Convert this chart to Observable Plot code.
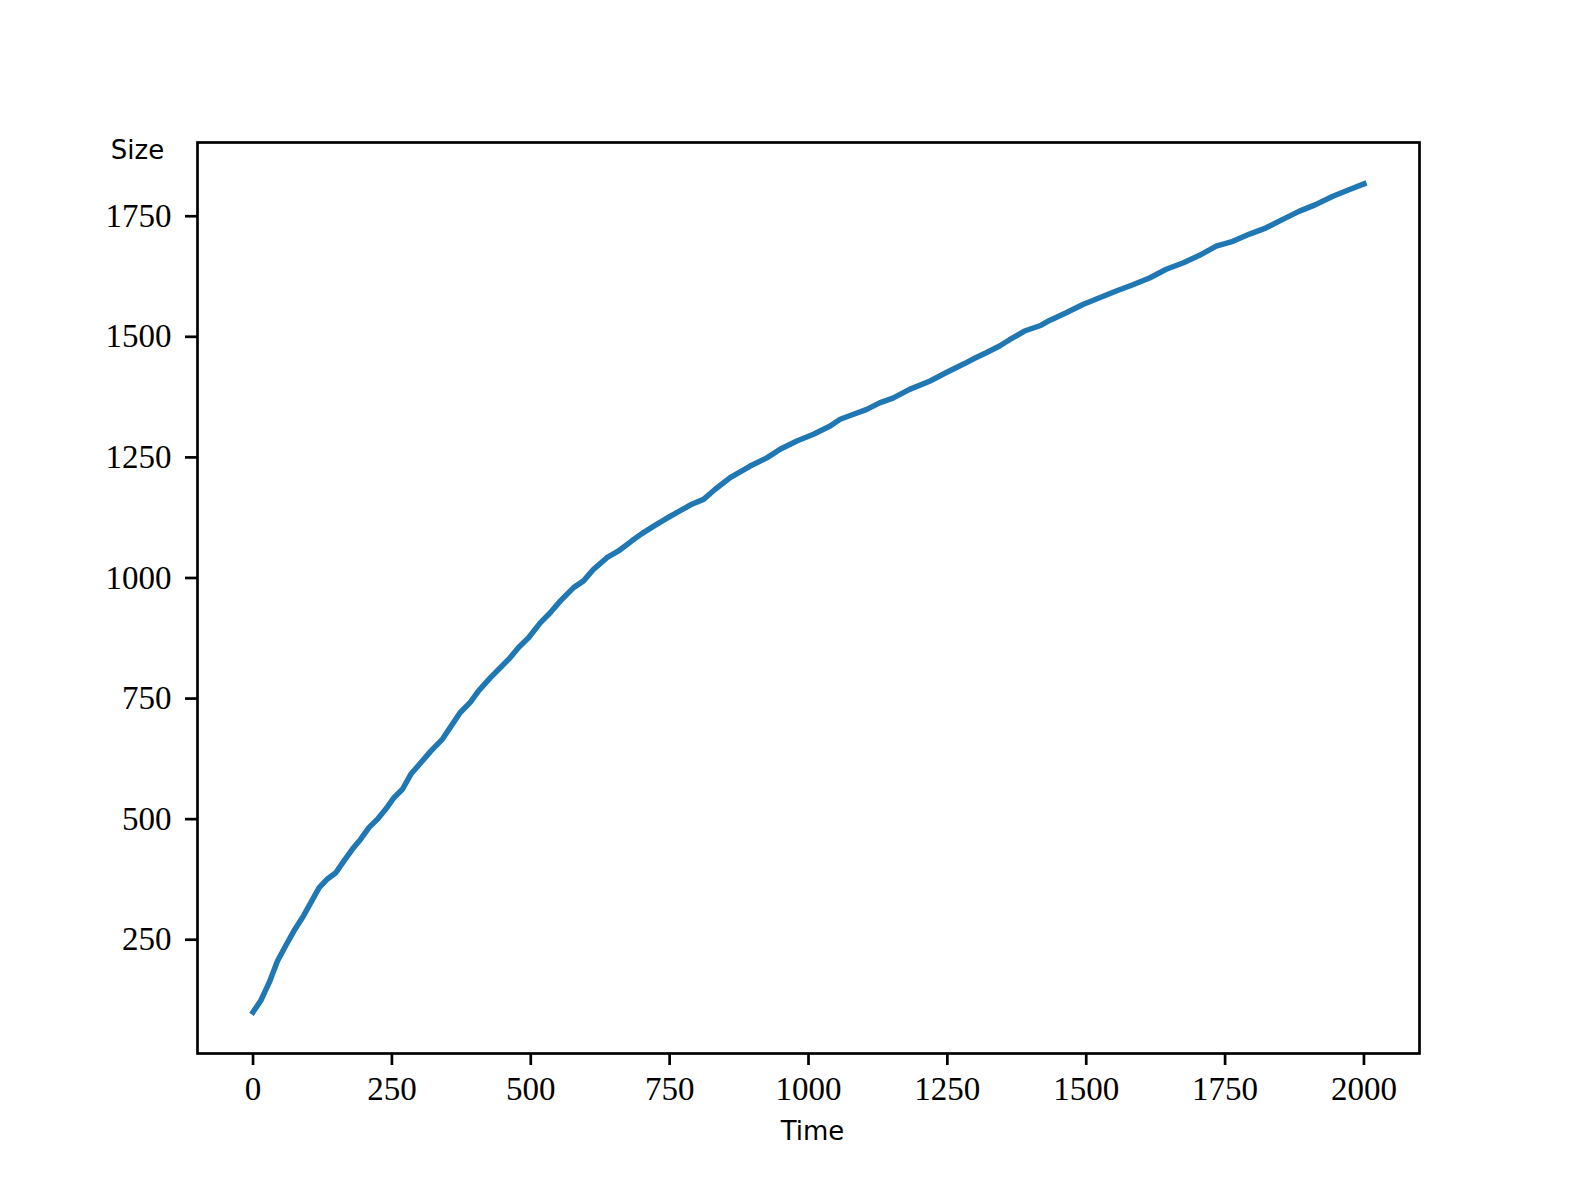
<!DOCTYPE html>
<html>
<head>
<meta charset="utf-8">
<script src="https://cdn.jsdelivr.net/npm/d3@7"></script>
<script src="https://cdn.jsdelivr.net/npm/@observablehq/plot@0.6"></script>
<style>
  html, body { margin: 0; padding: 0; background: #fff; }
  #chart svg { display: block; }
</style>
</head>
<body>
<div id="chart"></div>
<script>
const time = [0,14,29,44,59,74,89,104,119,134,149,164,179,194,209,224,239,254,269,284,302,320,341,359,373,391,406,427,445,463,478,496,517,535,553,577,595,613,637,658,682,700,725,750,770,790,811,832,859,895,925,949,979,1009,1039,1057,1080,1104,1128,1152,1182,1218,1250,1280,1300,1320,1344,1362,1389,1419,1434,1464,1494,1524,1554,1584,1614,1644,1674,1704,1734,1764,1794,1824,1853,1883,1913,1943,1973,2000];
const size = [100,124,161,206,238,269,296,327,358,376,389,414,438,459,483,500,521,545,562,593,617,641,666,697,721,742,766,793,814,835,856,876,907,928,952,980,994,1018,1042,1056,1077,1092,1110,1127,1140,1153,1163,1184,1208,1232,1249,1267,1284,1298,1315,1329,1339,1349,1363,1373,1391,1408,1427,1444,1456,1467,1481,1494,1512,1524,1534,1550,1567,1581,1595,1608,1622,1640,1653,1669,1688,1698,1713,1726,1743,1760,1774,1791,1805,1817];
const xTicks = [0,250,500,750,1000,1250,1500,1750,2000];
const yTicks = [250,500,750,1000,1250,1500,1750];
const xLabel = "Time";
const yLabel = "Size";

const data = d3.zip(time, size).map(([t, s]) => ({t, s}));

function padded(ext) {
  const r = ext[1] - ext[0];
  return [ext[0] - 0.05 * r, ext[1] + 0.05 * r];
}

const chart = Plot.plot({
  width: 1577,
  height: 1183,
  marginLeft: 197,
  marginRight: 158,
  marginTop: 142,
  marginBottom: 130,
  style: {fontFamily: "'Liberation Serif', serif", background: "#fff"},
  x: {domain: padded(d3.extent(time))},
  y: {domain: padded(d3.extent(size))},
  marks: [
    Plot.line(data, {x: "t", y: "s", stroke: "#1f77b4", strokeWidth: 5.5, strokeLinecap: "square", strokeLinejoin: "round"}),
    Plot.axisX({ticks: xTicks, tickSize: 12, tickPadding: 11, fontSize: 33, strokeWidth: 2.7, label: null, tickFormat: d => String(d)}),
    Plot.axisY({ticks: yTicks, tickSize: 12, tickPadding: 14, fontSize: 33, strokeWidth: 2.7, label: null, tickFormat: d => String(d)}),
    Plot.frame({stroke: "black", strokeWidth: 2.7}),
    Plot.text([yLabel], {frameAnchor: "top-left", text: d => d, dx: -60, dy: 8, textAnchor: "middle", lineAnchor: "middle", fontSize: 26, fontFamily: "'DejaVu Sans', sans-serif", fill: "black"}),
    Plot.text([xLabel], {frameAnchor: "bottom", text: d => d, dx: 4, dy: 78, textAnchor: "middle", lineAnchor: "middle", fontSize: 26, fontFamily: "'DejaVu Sans', sans-serif", fill: "black"})
  ]
});
document.getElementById("chart").appendChild(chart);
</script>
</body>
</html>
